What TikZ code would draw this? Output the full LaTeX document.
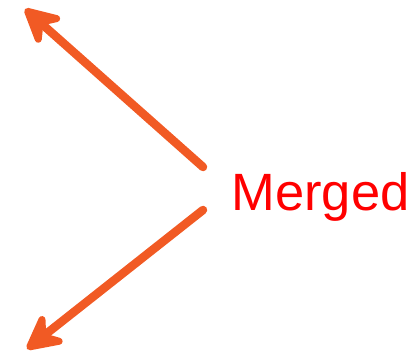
\documentclass[tikz,border=0pt]{standalone}
\usepackage{fontspec}
\setmainfont{Liberation Sans}
\usetikzlibrary{arrows.meta}
\definecolor{arrowc}{RGB}{241,90,36}
\tikzset{
  mergearrow/.style={draw=arrowc, line width=8.5pt, line cap=round,
    -{Stealth[length=30pt, width=31pt, inset=11pt, line width=7pt, round, scale=1.5]}},
  lbl/.style={text=red, font=\fontsize{52.5}{60}\selectfont, inner sep=0pt}
}
\begin{document}
\begin{tikzpicture}[x=1pt, y=-1pt]
\useasboundingbox (0,0) rectangle (416,356);
\coordinate (s1) at (203,167);
\coordinate (t1) at (25,9);
\coordinate (s2) at (203,210);
\coordinate (t2) at (27,349);
\node[lbl, anchor=base] (m) at (320.5,210) {Merged};
\draw[mergearrow] (s1) -- (t1);
\draw[mergearrow] (s2) -- (t2);
\end{tikzpicture}
\end{document}
